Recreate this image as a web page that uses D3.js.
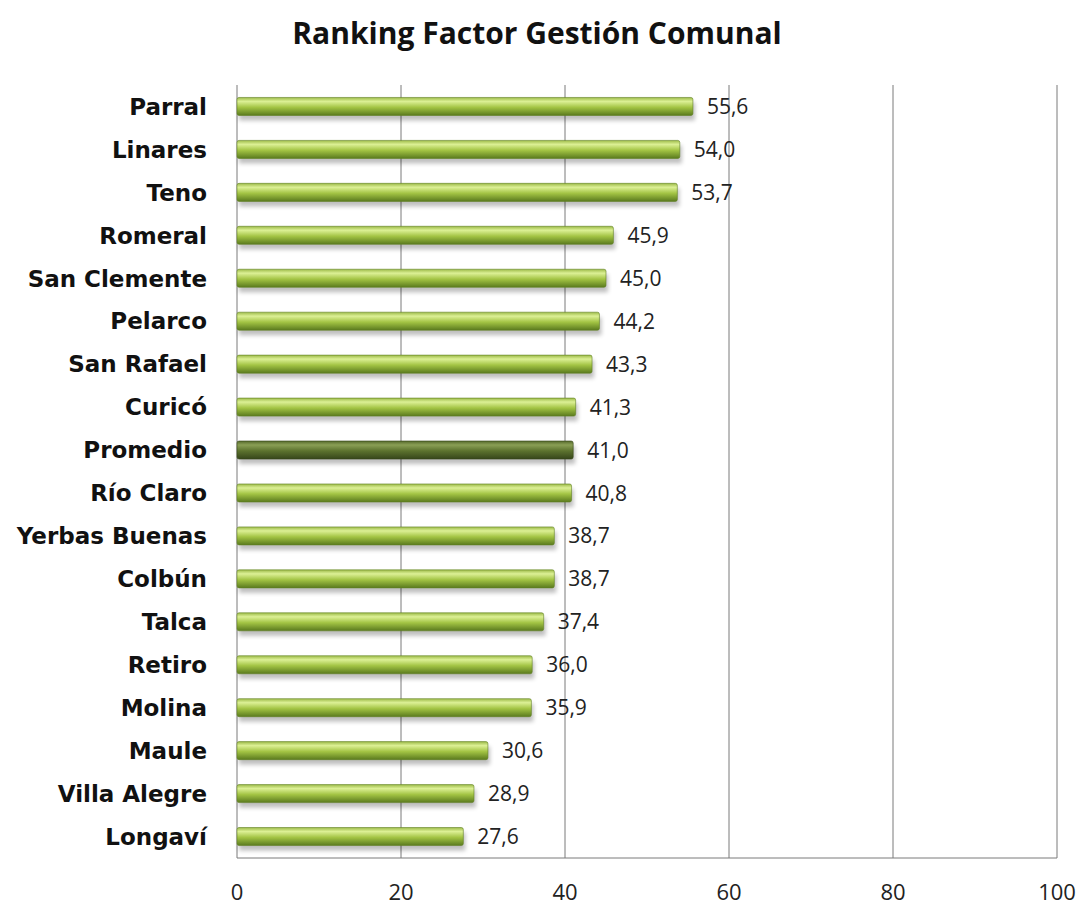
<!DOCTYPE html>
<html>
<head>
<meta charset="utf-8">
<script src="https://cdn.jsdelivr.net/npm/d3@7"></script>
<style>
  body { margin: 0; background: #fff; }
  svg { font-family: "Open Sans", "Liberation Sans", sans-serif; }
</style>
</head>
<body>
<div id="chart"></div>
<script>
var comunas = ["Parral", "Linares", "Teno", "Romeral", "San Clemente", "Pelarco", "San Rafael", "Curicó",
               "Promedio", "Río Claro", "Yerbas Buenas", "Colbún", "Talca", "Retiro", "Molina", "Maule",
               "Villa Alegre", "Longaví"];
var valores = [55.6, 54.0, 53.7, 45.9, 45.0, 44.2, 43.3, 41.3, 41.0, 40.8, 38.7, 38.7, 37.4, 36.0, 35.9, 30.6, 28.9, 27.6];
var ticks = [0, 20, 40, 60, 80, 100];
var titulo = "Ranking Factor Gestión Comunal";

var width = 1081,
    height = 908,
    margin = {top: 85, right: 24, bottom: 50, left: 237};

var svg = d3.select("#chart").append("svg")
    .attr("width", width)
    .attr("height", height);

var defs = svg.append("defs");
var grad = defs.append("linearGradient").attr("id", "barGrad")
    .attr("x1", 0).attr("y1", 0).attr("x2", 0).attr("y2", 1);
grad.append("stop").attr("offset", "0%").attr("stop-color", "#9cba48");
grad.append("stop").attr("offset", "22%").attr("stop-color", "#dcf095");
grad.append("stop").attr("offset", "55%").attr("stop-color", "#a3c444");
grad.append("stop").attr("offset", "100%").attr("stop-color", "#5a7a1e");

var grad2 = defs.append("linearGradient").attr("id", "promGrad")
    .attr("x1", 0).attr("y1", 0).attr("x2", 0).attr("y2", 1);
grad2.append("stop").attr("offset", "0%").attr("stop-color", "#566a2c");
grad2.append("stop").attr("offset", "22%").attr("stop-color", "#8a9f55");
grad2.append("stop").attr("offset", "55%").attr("stop-color", "#5c722e");
grad2.append("stop").attr("offset", "100%").attr("stop-color", "#36461a");

var blur = defs.append("filter").attr("id", "sombra")
    .attr("x", "-5%").attr("y", "-50%").attr("width", "110%").attr("height", "250%");
blur.append("feGaussianBlur").attr("stdDeviation", 2);

var x = d3.scaleLinear()
    .domain([0, 100])
    .range([margin.left, width - margin.right]);

var y = d3.scaleBand()
    .domain(comunas)
    .range([margin.top, height - margin.bottom])
    .paddingInner(0.58)
    .paddingOuter(0.29);

// title
svg.append("text")
    .attr("x", 537)
    .attr("y", 44)
    .attr("text-anchor", "middle")
    .style("font-size", "30px")
    .style("font-weight", "bold")
    .style("fill", "#111")
    .text(titulo);

// gridlines
svg.append("g").selectAll("line")
    .data(ticks)
    .enter().append("line")
    .attr("x1", d => x(d)).attr("x2", d => x(d))
    .attr("y1", margin.top)
    .attr("y2", height - margin.bottom)
    .attr("stroke", "#7a7a7a")
    .attr("stroke-width", 1);

// bottom axis line
svg.append("line")
    .attr("x1", x(0)).attr("x2", x(100))
    .attr("y1", height - margin.bottom).attr("y2", height - margin.bottom)
    .attr("stroke", "#7a7a7a");

// x tick labels
svg.append("g").selectAll("text")
    .data(ticks)
    .enter().append("text")
    .attr("x", d => x(d))
    .attr("y", 900)
    .attr("text-anchor", "middle")
    .style("font-size", "22px")
    .style("fill", "#222")
    .text(d => d);

// shadows
svg.append("g").selectAll("rect")
    .data(valores)
    .enter().append("rect")
    .attr("x", x(0) + 2)
    .attr("y", (d, i) => y(comunas[i]) + 5)
    .attr("width", d => x(d) - x(0))
    .attr("height", y.bandwidth())
    .attr("fill", "#000")
    .attr("opacity", 0.25)
    .attr("filter", "url(#sombra)");

// bars
svg.append("g").selectAll("rect")
    .data(valores)
    .enter().append("rect")
    .attr("x", x(0))
    .attr("y", (d, i) => y(comunas[i]))
    .attr("width", d => x(d) - x(0))
    .attr("height", y.bandwidth())
    .attr("rx", 2)
    .attr("fill", (d, i) => comunas[i] === "Promedio" ? "url(#promGrad)" : "url(#barGrad)")
    .attr("stroke", (d, i) => comunas[i] === "Promedio" ? "#36461a" : "#628224")
    .attr("stroke-width", 0.6);

// category labels
svg.append("g").selectAll("text")
    .data(comunas)
    .enter().append("text")
    .attr("x", 207)
    .attr("y", d => y(d) + y.bandwidth() / 2)
    .attr("dy", "0.36em")
    .attr("text-anchor", "end")
    .style("font-family", "'DejaVu Sans', Verdana, sans-serif")
    .style("font-size", "23px")
    .style("font-weight", "bold")
    .style("fill", "#111")
    .text(d => d);

// value labels
svg.append("g").selectAll("text")
    .data(valores)
    .enter().append("text")
    .attr("x", d => x(d) + 14)
    .attr("y", (d, i) => y(comunas[i]) + y.bandwidth() / 2)
    .attr("dy", "0.36em")
    .style("font-size", "21px")
    .style("fill", "#222")
    .text(d => d3.format(".1f")(d).replace(".", ","));
</script>
</body>
</html>
